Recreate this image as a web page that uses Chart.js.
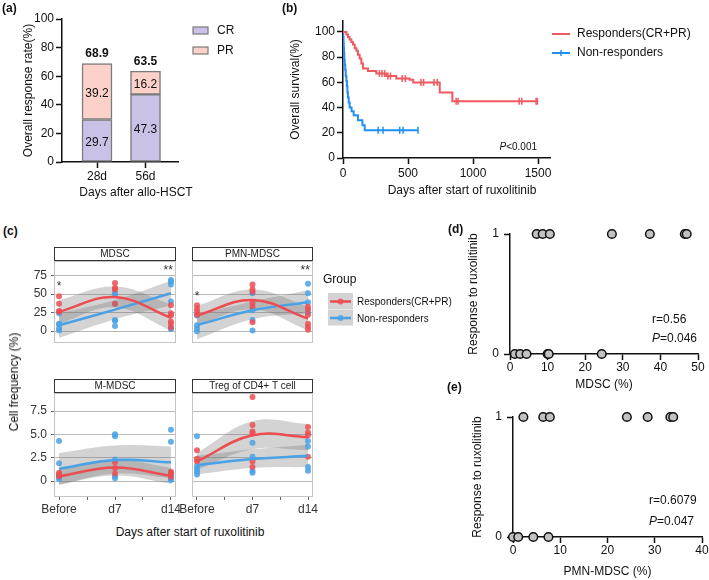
<!DOCTYPE html>
<html>
<head>
<meta charset="utf-8">
<script src="https://cdn.jsdelivr.net/npm/chart.js@4.4.0/dist/chart.umd.min.js"></script>
<style>
  body { margin: 0; background: #fff; }
  #fig { position: relative; width: 709px; height: 580px; overflow: hidden; font-family: 'Liberation Sans', Arial, sans-serif; color: #111; }
  #fig canvas { position: absolute; }
  .txt { position: absolute; font-size: 12px; white-space: nowrap; line-height: 14px; }
  .tag { font-weight: bold; }
</style>
</head>
<body>
<div id="fig">
  <canvas id="chartA" width="240" height="215" style="left:0;top:0"></canvas>
  <canvas id="chartB" width="459" height="210" style="left:250px;top:0"></canvas>
  <canvas id="c1" width="180" height="128" style="left:0;top:240px"></canvas>
  <canvas id="c2" width="290" height="128" style="left:180px;top:240px"></canvas>
  <canvas id="c3" width="186" height="146" style="left:0;top:372px"></canvas>
  <canvas id="c4" width="144" height="146" style="left:176px;top:372px"></canvas>
  <canvas id="chartD" width="269" height="178" style="left:440px;top:222px"></canvas>
  <canvas id="chartE" width="269" height="180" style="left:440px;top:400px"></canvas>

  <div class="txt tag" style="left:2px;top:1px">(a)</div>
  <div class="txt tag" style="left:282px;top:1px">(b)</div>
  <div class="txt tag" style="left:3px;top:224px">(c)</div>
  <div class="txt tag" style="left:448px;top:222px">(d)</div>
  <div class="txt tag" style="left:447px;top:380px">(e)</div>
  <div class="txt" style="left:14px;top:382px;transform:translate(-50%,-50%) rotate(-90deg)">Cell frequency (%)</div>
  <div class="txt" style="left:190px;top:532px;transform:translate(-50%,-50%)">Days after start of ruxolitinib</div>
</div>

<script>
// ---------- panel (a): response rate ----------
const aCategories = ['28d', '56d'];
const aCR = [29.7, 47.3];
const aPR = [39.2, 16.2];
const aTotals = [68.9, 63.5];
const aYTicks = [0, 20, 40, 60, 80, 100];

// ---------- panel (b): survival curves ----------
const respDays = [0, 26, 38, 50, 64, 77, 90, 103, 115, 128, 141, 154, 192, 256, 333, 410, 513, 540, 744, 841, 1500];
const respSurv = [100, 98, 96, 94, 92, 90, 87, 85, 82, 79, 75, 71, 69, 67, 65, 63, 62, 60, 52, 45, 45];
const nonDays = [0, 2, 4, 6, 8, 10, 13, 17, 21, 26, 30, 34, 38, 44, 51, 66, 82, 115, 149, 167, 577];
const nonSurv = [100, 96, 91, 87, 83, 78, 74, 70, 65, 61, 57, 52, 48, 44, 40, 37, 34, 30, 26, 22, 22];
const respCensorDays = [280, 300, 320, 345, 365, 455, 480, 600, 620, 700, 725, 870, 885, 1355, 1375, 1485, 1495];
const respCensorSurv = [67, 67, 67, 65, 65, 63, 63, 60, 60, 60, 60, 45, 45, 45, 45, 45, 45];
const nonCensorDays = [270, 308, 436, 462, 577];
const nonCensorSurv = [22, 22, 22, 22, 22];
const bXTicks = [0, 500, 1000, 1500];
const bYTicks = [0, 20, 40, 60, 80, 100];

// ---------- panel (c): cell frequencies ----------
const timeLabels = ['Before', 'd7', 'd14'];
const timePos = [0, 1, 2];
const xTickPos = [0, 0.5, 1, 1.5, 2];
const pctTicks = [0, 25, 50, 75];
const pctLabels = ['0', '25', '50', '75'];
const smallTicks = [0, 2.5, 5, 7.5];
const smallLabels = ['0', '2.5', '5.0', '7.5'];

const mdscRespDots = [[47, 37, 27, 26], [65, 58, 56, 37], [35, 24, 21, 13, 10, 5]];
const mdscNonDots = [[24, 10, 9, 4, 1], [51, 50, 37, 15, 14, 7], [69, 67, 63, 40, 4, 3]];
const mdscRespFit = [26, 46, 18];
const mdscNonFit = [8, 29, 51];
const mdscRespUpper = [42, 60, 36];
const mdscRespLower = [10, 32, 1];
const mdscNonUpper = [24, 42, 68];
const mdscNonLower = [-9, 16, 35];

const pmnRespDots = [[35, 30, 26, 22], [63, 56, 53, 38, 33, 12], [33, 29, 22, 10, 6, 2]];
const pmnNonDots = [[21, 8, 4, 0], [51, 28, 15, 1], [64, 51, 39, 25]];
const pmnRespFit = [21, 42, 17];
const pmnNonFit = [8, 28, 39];
const pmnRespUpper = [34, 56, 33];
const pmnRespLower = [8, 29, 1];
const pmnNonUpper = [22, 40, 55];
const pmnNonLower = [-11, 16, 24];

const mmRespDots = [[0.9, 0.7, 0.5], [2.0, 1.4, 0.8], [1.0, 0.8, 0.45]];
const mmNonDots = [[4.3, 1.9, 0.6, 0.4, 0.2], [5.0, 4.8, 2.3, 0.5, 0.3], [5.5, 4.2, 0.9, 0.5, 0.2, 0.1]];
const mmRespFit = [0.5, 1.45, 0.55];
const mmNonFit = [1.3, 2.25, 2.0];
const mmRespUpper = [1.4, 2.3, 1.4];
const mmRespLower = [-0.4, 0.6, -0.3];
const mmNonUpper = [3.0, 3.8, 3.7];
const mmNonLower = [-0.4, 0.8, 0.3];

const tregRespDots = [[3.3, 2.4, 2.1], [9.0, 6.0, 5.3, 5.1, 2.1, 1.5], [5.8, 5.2, 4.9, 2.6]];
const tregNonDots = [[4.8, 1.6, 1.3, 1.0, 0.7], [4.1, 2.6, 1.1, 0.9], [4.3, 3.7, 1.5, 1.1]];
const tregRespFit = [2.1, 4.9, 4.7];
const tregNonFit = [1.7, 2.35, 2.7];
const tregRespUpper = [3.0, 6.4, 6.1];
const tregRespLower = [1.2, 3.4, 3.3];
const tregNonUpper = [2.7, 3.4, 3.9];
const tregNonLower = [0.7, 1.4, 1.5];

const mdscStars = [{ x: 0, y: 60, t: '*' }, { x: 1.95, y: 82, t: '**' }];
const pmnStars = [{ x: 0, y: 47, t: '*' }, { x: 1.95, y: 82, t: '**' }];

// ---------- panels (d) and (e): response vs cell frequency ----------
const dRespX = [7.1, 8.7, 10.6, 27.1, 37.2, 46.5, 47.0];
const dNonX = [1.3, 2.7, 4.4, 10.0, 10.3, 24.4];
const dXTicks = [0, 10, 20, 30, 40, 50];
const eRespX = [2.2, 6.4, 7.8, 24.1, 28.5, 33.3, 33.9];
const eNonX = [0, 1.1, 4.3, 7.5];
const eXTicks = [0, 10, 20, 30, 40];
const responseTicks = [0, 1];

// ---------- styling ----------
const FONT = "'Liberation Sans', Arial, Helvetica, sans-serif";
const crColor = '#cbc0e6';
const prColor = '#fbd1c9';
const kmRed = '#ee5a5f';
const kmBlue = '#1e90f5';
const cRed = '#ec4d52';
const cBlue = '#4aa2e6';
const cRedDot = 'rgba(236,77,82,0.85)';
const cBlueDot = 'rgba(74,162,230,0.85)';
const bandColor = 'rgba(120,120,120,0.33)';

Chart.defaults.font.family = FONT;
Chart.defaults.font.size = 12;
Chart.defaults.color = '#111';
Chart.defaults.animation = false;
Chart.defaults.responsive = false;
Chart.defaults.plugins.legend.display = false;
Chart.defaults.plugins.tooltip.enabled = false;

// fixed axis sizes so the plot areas land where they should
function fixWidth(w) { return s => { s.width = w; s.paddingTop = 0; s.paddingBottom = 0; }; }
function fixHeight(h) { return s => { s.height = h; s.paddingLeft = 0; s.paddingRight = 0; }; }
function setTicks(values) { return s => { s.ticks = values.map(v => ({ value: v })); }; }

// Prism-like axis
function prismAxis(o) {
  return {
    type: 'linear', min: o.min, max: o.max, offset: false, stacked: o.stacked || false,
    afterBuildTicks: setTicks(o.ticks),
    afterFit: o.width != null ? fixWidth(o.width) : fixHeight(o.height),
    ticks: { callback: o.labels || (v => String(v)), padding: o.pad, color: '#111', font: { size: 12 }, maxRotation: 0, autoSkip: false },
    grid: { drawOnChartArea: false, drawTicks: true, tickLength: 6, tickColor: '#111', tickWidth: 1.5, offset: false },
    border: { display: true, color: '#111', width: 1.5 },
    title: o.title ? { display: true, text: o.title, padding: 0, color: '#111', font: { size: 12 } } : { display: false }
  };
}

function drawRich(ctx, parts, x, y, size, align) {
  const fonts = parts.map(p => (p.italic ? 'italic ' : '') + size + 'px ' + FONT);
  let total = 0;
  parts.forEach((p, i) => { ctx.font = fonts[i]; total += ctx.measureText(p.t).width; });
  let cx = align === 'right' ? x - total : x;
  ctx.textAlign = 'left';
  ctx.textBaseline = 'middle';
  parts.forEach((p, i) => { ctx.font = fonts[i]; ctx.fillText(p.t, cx, y); cx += ctx.measureText(p.t).width; });
}

// ---------- (a) ----------
const aPlugin = {
  id: 'aDecor',
  afterDatasetsDraw(chart) {
    const ctx = chart.ctx;
    ctx.save();
    ctx.fillStyle = '#111';
    ctx.textAlign = 'center';
    ctx.textBaseline = 'middle';
    ctx.font = '12px ' + FONT;
    chart.data.datasets.forEach((ds, di) => {
      chart.getDatasetMeta(di).data.forEach((bar, i) => {
        ctx.fillText(ds.data[i].y.toFixed(1), bar.x, (bar.y + bar.base) / 2 + 2);
      });
    });
    ctx.font = 'bold 12px ' + FONT;
    chart.getDatasetMeta(1).data.forEach((bar, i) => {
      ctx.fillText(aTotals[i].toFixed(1), bar.x, bar.y - 10);
    });
    // legend
    ctx.font = '12px ' + FONT;
    ctx.textAlign = 'left';
    chart.data.datasets.forEach((ds, di) => {
      const y = 27 + di * 20;
      ctx.fillStyle = ds.backgroundColor;
      ctx.fillRect(193, y, 15, 7);
      ctx.strokeStyle = '#7a7a7a';
      ctx.lineWidth = 1.2;
      ctx.strokeRect(193, y, 15, 7);
      ctx.fillStyle = '#111';
      ctx.fillText(ds.label, 217, y + 4);
    });
    ctx.textAlign = 'center';
    ctx.fillText('Days after allo-HSCT', 136, 193);
    ctx.restore();
  }
};

new Chart(document.getElementById('chartA'), {
  type: 'bar',
  data: {
    datasets: [
      { label: 'CR', data: aCategories.map((c, i) => ({ x: i + 1, y: aCR[i] })), backgroundColor: crColor, borderColor: '#7a7a7a', borderWidth: 1.5, borderSkipped: false, barThickness: 30 },
      { label: 'PR', data: aCategories.map((c, i) => ({ x: i + 1, y: aPR[i] })), backgroundColor: prColor, borderColor: '#7a7a7a', borderWidth: 1.5, borderSkipped: false, barThickness: 30 }
    ]
  },
  options: {
    layout: { padding: { left: 21, top: 19, right: 62, bottom: 15 } },
    scales: {
      x: prismAxis({ min: 0.278, max: 2.67, ticks: [1, 2], labels: v => aCategories[v - 1], height: 38, pad: 1, stacked: true }),
      y: prismAxis({ min: 0, max: 100, ticks: aYTicks, width: 41, pad: 2, stacked: true, title: 'Overall response rate(%)' })
    }
  },
  plugins: [aPlugin]
});

// ---------- (b) ----------
const zip = (xs, ys) => xs.map((x, i) => ({ x: x, y: ys[i] }));
const bPlugin = {
  id: 'bDecor',
  afterDraw(chart) {
    const ctx = chart.ctx;
    ctx.save();
    ctx.lineWidth = 2;
    ctx.strokeStyle = kmRed;
    ctx.beginPath(); ctx.moveTo(302, 34); ctx.lineTo(320, 34); ctx.stroke();
    ctx.strokeStyle = kmBlue;
    ctx.beginPath(); ctx.moveTo(302, 53); ctx.lineTo(320, 53); ctx.stroke();
    ctx.lineWidth = 1.5;
    ctx.beginPath(); ctx.moveTo(311, 50); ctx.lineTo(311, 56); ctx.stroke();
    ctx.fillStyle = '#111';
    ctx.font = '12px ' + FONT;
    ctx.textAlign = 'left';
    ctx.textBaseline = 'middle';
    ctx.fillText('Responders(CR+PR)', 327, 34);
    ctx.fillText('Non-responders', 327, 53);
    ctx.textAlign = 'center';
    ctx.fillText('Days after start of ruxolitinib', 212, 191);
    drawRich(ctx, [{ t: 'P', italic: true }, { t: '<0.001' }], 287, 147, 10, 'right');
    ctx.restore();
  }
};

new Chart(document.getElementById('chartB'), {
  type: 'line',
  data: {
    datasets: [
      { data: zip(respDays, respSurv), stepped: true, borderColor: kmRed, borderWidth: 2, pointRadius: 0, fill: false },
      { data: zip(nonDays, nonSurv), stepped: true, borderColor: kmBlue, borderWidth: 2, pointRadius: 0, fill: false },
      { data: zip(respCensorDays, respCensorSurv), showLine: false, pointStyle: 'line', rotation: 90, pointRadius: 3.5, borderColor: kmRed, pointBorderColor: kmRed, pointBorderWidth: 1.5 },
      { data: zip(nonCensorDays, nonCensorSurv), showLine: false, pointStyle: 'line', rotation: 90, pointRadius: 3.5, borderColor: kmBlue, pointBorderColor: kmBlue, pointBorderWidth: 1.5 }
    ]
  },
  options: {
    layout: { padding: { left: 38, top: 21, right: 159, bottom: 12 } },
    scales: {
      x: prismAxis({ min: 0, max: 1592, ticks: bXTicks, height: 40, pad: 2 }),
      y: prismAxis({ min: 0, max: 108.7, ticks: bYTicks, width: 55, pad: 2, title: 'Overall survival(%)' })
    }
  },
  plugins: [bPlugin]
});

// ---------- (c) facets ----------
function facetDecor(spec) {
  return {
    id: 'facetDecor',
    afterDraw(chart) {
      const ctx = chart.ctx;
      const a = chart.chartArea;
      ctx.save();
      ctx.strokeStyle = '#c4c4c4';
      ctx.lineWidth = 1;
      ctx.strokeRect(a.left + 0.5, a.top + 0.5, a.right - a.left - 1, a.bottom - a.top - 1);
      ctx.fillStyle = '#fff';
      ctx.fillRect(a.left, a.top - 14, a.right - a.left, 13);
      ctx.strokeStyle = '#333';
      ctx.strokeRect(a.left + 0.5, a.top - 13.5, a.right - a.left - 1, 13);
      ctx.fillStyle = '#1a1a1a';
      ctx.font = '10px ' + FONT;
      ctx.textAlign = 'center';
      ctx.textBaseline = 'middle';
      ctx.fillText(spec.title, (a.left + a.right) / 2, a.top - 7);
      ctx.font = '12px ' + FONT;
      ctx.fillStyle = '#333';
      (spec.stars || []).forEach(s => {
        ctx.fillText(s.t, chart.scales.x.getPixelForValue(s.x), chart.scales.y.getPixelForValue(s.y));
      });
      if (spec.legend) {
        const ox = 180, oy = 240;
        ctx.fillStyle = '#111';
        ctx.textAlign = 'left';
        ctx.font = '12px ' + FONT;
        ctx.fillText('Group', 323 - ox, 280 - oy);
        [[cRed, cRedDot, 'Responders(CR+PR)'], [cBlue, cBlueDot, 'Non-responders']].forEach((k, i) => {
          const top = 293 + i * 16.5 - oy;
          ctx.fillStyle = '#d3d3d3';
          ctx.fillRect(328 - ox, top, 25, 16);
          const cy = top + 8.5;
          ctx.strokeStyle = k[0];
          ctx.lineWidth = 2.5;
          ctx.beginPath(); ctx.moveTo(330 - ox, cy); ctx.lineTo(351 - ox, cy); ctx.stroke();
          ctx.fillStyle = k[1];
          ctx.beginPath(); ctx.arc(340.5 - ox, cy, 3, 0, Math.PI * 2); ctx.fill();
          ctx.fillStyle = '#111';
          ctx.font = '10px ' + FONT;
          ctx.fillText(k[2], 357 - ox, cy + 1);
        });
      }
      ctx.restore();
    }
  };
}

function makeFacet(id, spec) {
  const toPts = groups => groups.flatMap((vals, t) => vals.map(v => ({ x: timePos[t], y: v })));
  const toCurve = vals => vals.map((v, t) => ({ x: timePos[t], y: v }));
  const band = (vals, fill) => ({ data: toCurve(vals), borderWidth: 0, borderColor: 'rgba(0,0,0,0)', backgroundColor: bandColor, pointRadius: 0, tension: 0.4, fill: fill, order: 3 });
  const dots = (groups, col) => ({ data: toPts(groups), showLine: false, pointRadius: 3, pointBackgroundColor: col, pointBorderWidth: 0, order: 2 });
  const fit = (vals, col) => ({ data: toCurve(vals), borderColor: col, borderWidth: 2.5, pointRadius: 0, tension: 0.4, fill: false, order: 1 });
  return new Chart(document.getElementById(id), {
    type: 'line',
    data: {
      datasets: [
        band(spec.respUpper, '+1'), band(spec.respLower, false),
        band(spec.nonUpper, '+1'), band(spec.nonLower, false),
        dots(spec.respDots, cRedDot), dots(spec.nonDots, cBlueDot),
        fit(spec.respFit, cRed), fit(spec.nonFit, cBlue)
      ]
    },
    options: {
      layout: { padding: spec.pad },
      scales: {
        x: {
          type: 'linear', min: -0.09, max: 2.09, offset: false, display: spec.showX,
          afterBuildTicks: setTicks(xTickPos), afterFit: fixHeight(21),
          ticks: { callback: v => (Number.isInteger(v) ? timeLabels[v] : ''), padding: 2, color: '#333', maxRotation: 0, autoSkip: false, font: { size: 12 } },
          grid: { drawOnChartArea: false, drawTicks: true, tickLength: 3, tickColor: '#666', offset: false },
          border: { display: false }
        },
        y: {
          type: 'linear', min: spec.yMin, max: spec.yMax,
          afterBuildTicks: setTicks(spec.yTicks), afterFit: fixWidth(spec.yw),
          ticks: { display: spec.showY, callback: (v, i) => spec.yLabels[i], padding: 4, color: '#333', font: { size: 12 } },
          grid: { color: '#b8b8b8', lineWidth: 1, drawTicks: spec.showY, tickLength: 3, tickColor: '#666' },
          border: { display: false }
        }
      }
    },
    plugins: [facetDecor(spec)]
  });
}

makeFacet('c1', {
  title: 'MDSC', yMin: -16, yMax: 94.5, yTicks: pctTicks, yLabels: pctLabels, showY: true, showX: false, yw: 54,
  pad: { left: 0, top: 21, right: 4, bottom: 4 },
  respDots: mdscRespDots, nonDots: mdscNonDots, respFit: mdscRespFit, nonFit: mdscNonFit,
  respUpper: mdscRespUpper, respLower: mdscRespLower, nonUpper: mdscNonUpper, nonLower: mdscNonLower, stars: mdscStars
});
makeFacet('c2', {
  title: 'PMN-MDSC', yMin: -16, yMax: 94.5, yTicks: pctTicks, yLabels: pctLabels, showY: false, showX: false, yw: 12,
  pad: { left: 0, top: 21, right: 157, bottom: 4 },
  respDots: pmnRespDots, nonDots: pmnNonDots, respFit: pmnRespFit, nonFit: pmnNonFit,
  respUpper: pmnRespUpper, respLower: pmnRespLower, nonUpper: pmnNonUpper, nonLower: pmnNonLower, stars: pmnStars, legend: true
});
makeFacet('c3', {
  title: 'M-MDSC', yMin: -1.71, yMax: 9.43, yTicks: smallTicks, yLabels: smallLabels, showY: true, showX: true, yw: 54,
  pad: { left: 0, top: 21, right: 10, bottom: 0 },
  respDots: mmRespDots, nonDots: mmNonDots, respFit: mmRespFit, nonFit: mmNonFit,
  respUpper: mmRespUpper, respLower: mmRespLower, nonUpper: mmNonUpper, nonLower: mmNonLower
});
makeFacet('c4', {
  title: 'Treg of CD4+ T cell', yMin: -1.71, yMax: 9.43, yTicks: smallTicks, yLabels: smallLabels, showY: false, showX: true, yw: 16,
  pad: { left: 0, top: 21, right: 7, bottom: 0 },
  respDots: tregRespDots, nonDots: tregNonDots, respFit: tregRespFit, nonFit: tregNonFit,
  respUpper: tregRespUpper, respLower: tregRespLower, nonUpper: tregNonUpper, nonLower: tregNonLower
});

// ---------- (d) and (e) ----------
function statsPlugin(rText, pText, x, y1, y2) {
  return {
    id: 'stats',
    afterDraw(chart) {
      const ctx = chart.ctx;
      ctx.save();
      ctx.fillStyle = '#111';
      drawRich(ctx, [{ t: rText }], x, y1, 12, 'left');
      drawRich(ctx, [{ t: 'P', italic: true }, { t: pText }], x, y2, 12, 'left');
      ctx.restore();
    }
  };
}

function makeResponse(id, respX, nonX, xTicks, xMax, xTitle, layout, stats) {
  const pts = respX.map(v => ({ x: v, y: 1 })).concat(nonX.map(v => ({ x: v, y: 0 })));
  return new Chart(document.getElementById(id), {
    type: 'scatter',
    data: { datasets: [{ data: pts, pointRadius: 4.3, pointBackgroundColor: '#c2c2c2', pointBorderColor: '#111', pointBorderWidth: 1.5, clip: false }] },
    options: {
      layout: { padding: layout.pad },
      scales: {
        x: prismAxis({ min: 0, max: xMax, ticks: xTicks, height: layout.xh, pad: 0, title: xTitle }),
        y: prismAxis({ min: 0, max: 1, ticks: responseTicks, width: layout.yw, pad: 5, title: 'Response to ruxolitinib' })
      }
    },
    plugins: [stats]
  });
}

makeResponse('chartD', dRespX, dNonX, dXTicks, 50, 'MDSC (%)',
  { pad: { left: 26, top: 12, right: 11, bottom: 8 }, yw: 44, xh: 38 },
  statsPlugin('r=0.56', '=0.046', 212, 98, 117));
makeResponse('chartE', eRespX, eNonX, eXTicks, 40, 'PMN-MDSC (%)',
  { pad: { left: 30, top: 17, right: 7, bottom: 1 }, yw: 43, xh: 42 },
  statsPlugin('r=0.6079', '=0.047', 209, 101, 122));
</script>
</body>
</html>
